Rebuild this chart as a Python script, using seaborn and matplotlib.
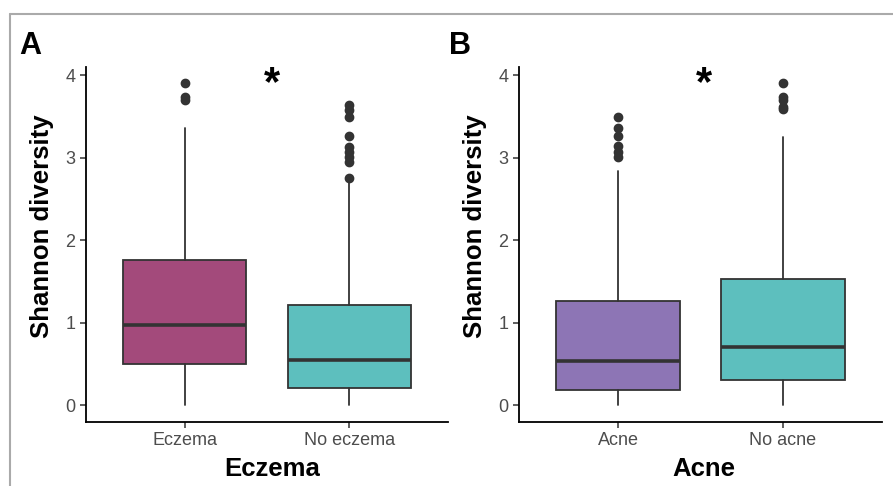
import numpy as np
import seaborn as sns
import matplotlib.pyplot as plt
from matplotlib.lines import Line2D

# values (Shannon diversity)
eczema_groups = ['Eczema', 'No eczema']
eczema_q1 = [0.50, 0.21]
eczema_med = [0.97, 0.55]
eczema_q3 = [1.76, 1.22]
eczema_lo = [0.0, 0.0]
eczema_hi = [3.36, 2.71]
eczema_fliers = [[3.91, 3.74, 3.70],
                 [2.76, 2.95, 3.01, 3.07, 3.13, 3.26, 3.49, 3.58, 3.64]]

acne_groups = ['Acne', 'No acne']
acne_q1 = [0.19, 0.31]
acne_med = [0.54, 0.71]
acne_q3 = [1.26, 1.53]
acne_lo = [0.0, 0.0]
acne_hi = [2.84, 3.25]
acne_fliers = [[3.01, 3.07, 3.14, 3.26, 3.36, 3.49],
               [3.59, 3.62, 3.70, 3.74, 3.91]]

colors_a = ['#A34A7B', '#5DBFBE']
colors_b = ['#8D75B5', '#5DBFBE']

sns.set_style('ticks')
plt.rcParams['font.family'] = ['Liberation Sans', 'DejaVu Sans']
plt.rcParams['text.color'] = 'black'
plt.rcParams['axes.labelcolor'] = 'black'

fig = plt.figure(figsize=(8.93, 4.86), dpi=100)
ax1 = fig.add_axes([0.0963, 0.1323, 0.4054, 0.7298])
ax2 = fig.add_axes([0.5812, 0.1323, 0.4065, 0.7298])


def draw_panel(ax, groups, q1, med, q3, lo, hi, fliers, colors, xlab, letter, lx, star_x, lab_x):
    stats = []
    for i in range(len(groups)):
        stats.append(dict(med=med[i], q1=q1[i], q3=q3[i], whislo=lo[i], whishi=hi[i],
                          fliers=fliers[i], label=groups[i]))
    bp = ax.bxp(stats, positions=[1, 2], widths=0.75, patch_artist=True, showcaps=False,
                boxprops=dict(edgecolor='#333333', linewidth=1.3),
                medianprops=dict(color='#333333', linewidth=2.6),
                whiskerprops=dict(color='#333333', linewidth=1.3),
                flierprops=dict(marker='o', markerfacecolor='#333333', markeredgecolor='#333333',
                                markersize=6))
    for patch, c in zip(bp['boxes'], colors):
        patch.set_facecolor(c)
    ax.set_xlim(0.4, 2.6)
    ax.set_ylim(-0.2, 4.1)
    ax.set_yticks([0, 1, 2, 3, 4])
    ax.tick_params(axis='both', labelsize=13, labelcolor='#4D4D4D', color='#333333',
                   length=4, width=1.1)
    ax.set_xlabel(xlab, fontsize=18.5, fontweight='bold', labelpad=6)
    ax.set_ylabel('Shannon diversity', fontsize=18.5, fontweight='bold', labelpad=8)
    ax.yaxis.label.set_y(0.55)
    ax.xaxis.label.set_x(lab_x)
    for s in ['left', 'bottom']:
        ax.spines[s].set_linewidth(1.3)
        ax.spines[s].set_color('black')
    sns.despine(ax=ax)
    ax.text(star_x, 3.89, '*', fontsize=30, fontweight='bold', ha='center', va='center')
    fig.text(lx / 893, 1 - 31 / 486, letter, fontsize=22, fontweight='bold', va='top', ha='left')


draw_panel(ax1, eczema_groups, eczema_q1, eczema_med, eczema_q3, eczema_lo, eczema_hi,
           eczema_fliers, colors_a, 'Eczema', 'A', 19, 1.53, 0.514)
draw_panel(ax2, acne_groups, acne_q1, acne_med, acne_q3, acne_lo, acne_hi,
           acne_fliers, colors_b, 'Acne', 'B', 449, 1.52, 0.508)

# gray frame lines on top and left
fig.add_artist(Line2D([10 / 893, 1], [1 - 14 / 486, 1 - 14 / 486], color='#AAAAAA', lw=1.5))
fig.add_artist(Line2D([10 / 893, 10 / 893], [0, 1 - 14 / 486], color='#AAAAAA', lw=1.5))

fig.savefig('out.png', dpi=100)
